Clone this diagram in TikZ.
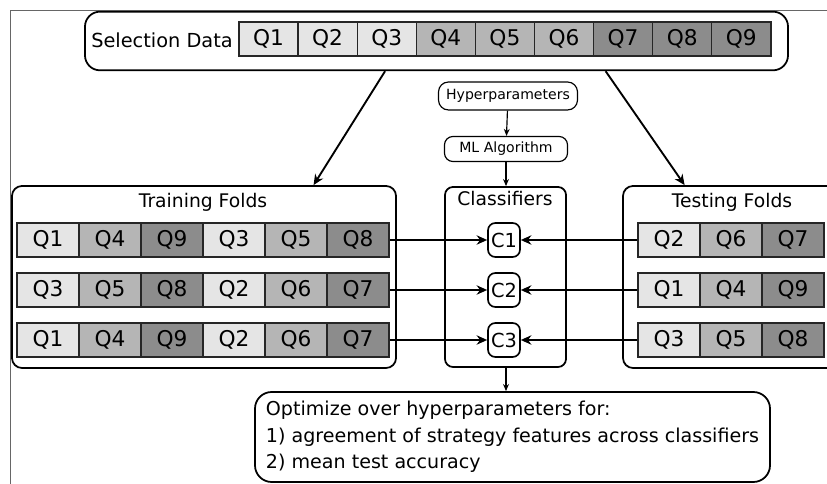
\documentclass[tikz,border=0pt]{standalone}
\usepackage{fontspec}
\setmainfont{DejaVu Sans}
\usetikzlibrary{positioning, arrows.meta, calc}
\definecolor{qlight}{gray}{0.90}
\definecolor{qmid}{gray}{0.71}
\definecolor{qdark}{gray}{0.55}
\tikzset{
  qcell/.style={draw=black!85, line width=1.1pt, minimum width=1.86cm, minimum height=1.02cm,
    inner sep=0pt, font=\fontsize{18.5}{20}\selectfont},
  roundbox/.style={draw, line width=1.5pt, rounded corners=0.3cm, inner sep=0pt},
  title/.style={font=\fontsize{16}{18}\selectfont},
  clnode/.style={draw, line width=1.4pt, rounded corners=0.22cm, minimum width=0.96cm,
    minimum height=1.02cm, inner sep=0pt, font=\fontsize{16.5}{18}\selectfont},
  smallbox/.style={draw, line width=1pt, rounded corners=0.25cm, inner sep=0pt,
    font=\fontsize{12}{14}\selectfont},
  wire/.style={-{Stealth[length=9pt, width=8pt]}, line width=1.6pt},
  thinwire/.style={-{Stealth[length=6pt, width=5pt]}, line width=1pt}
}

\begin{document}
\begin{tikzpicture}[x=0.03cm, y=-0.03cm]
    \clip (0,0) rectangle (827,484);
    \draw[black!60, line width=0.8pt] (10,484) -- (10,10) -- (827,10);
    %% outer boxes
    \node[roundbox, rounded corners=0.45cm, minimum width=21.09cm, minimum height=1.76cm, fill=white]
      (selbox) at (436.5,41) {};
    \node[roundbox, minimum width=11.52cm, minimum height=5.46cm] (trainbox) at (204,277) {};
    \node[roundbox, rounded corners=0.24cm, minimum width=3.63cm, minimum height=5.4cm] (clsbox) at (505.5,277) {};
    \node[roundbox, minimum width=6.48cm, minimum height=5.46cm] (testbox) at (731,277) {};
    \node[title, font=\fontsize{16.5}{18}\selectfont] (seltext) at (162,40) {Selection Data};
    \node[title] (traintext) at (203,202) {Training Folds};
    \node[title] (clstext) at (505,199) {Classifiers};
    \node[title] (testtext) at (732,202) {Testing Folds};
    %% selection data
    \foreach \q/\c [count=\i from 1] in {Q1/qlight,Q2/qlight,Q3/qlight,Q4/qmid,Q5/qmid,Q6/qmid,Q7/qdark,Q8/qdark,Q9/qdark}
      \node[qcell, minimum width=1.773cm, fill=\c] (sel-\i) at (209.4+59.1*\i,39) {\q};
    %% training folds
    \foreach \q/\c [count=\i from 1] in {Q1/qlight,Q4/qmid,Q9/qdark,Q3/qlight,Q5/qmid,Q8/qdark}
      \node[qcell, fill=\c] (tr1-\i) at (-14+62*\i,240) {\q};
    \foreach \q/\c [count=\i from 1] in {Q3/qlight,Q5/qmid,Q8/qdark,Q2/qlight,Q6/qmid,Q7/qdark}
      \node[qcell, fill=\c] (tr2-\i) at (-14+62*\i,290) {\q};
    \foreach \q/\c [count=\i from 1] in {Q1/qlight,Q4/qmid,Q9/qdark,Q2/qlight,Q6/qmid,Q7/qdark}
      \node[qcell, fill=\c] (tr3-\i) at (-14+62*\i,340) {\q};
    %% testing folds
    \foreach \q/\c [count=\i from 1] in {Q2/qlight,Q6/qmid,Q7/qdark}
      \node[qcell, fill=\c] (ts1-\i) at (607+62*\i,240) {\q};
    \foreach \q/\c [count=\i from 1] in {Q1/qlight,Q4/qmid,Q9/qdark}
      \node[qcell, fill=\c] (ts2-\i) at (607+62*\i,290) {\q};
    \foreach \q/\c [count=\i from 1] in {Q3/qlight,Q5/qmid,Q8/qdark}
      \node[qcell, fill=\c] (ts3-\i) at (607+62*\i,340) {\q};
    %% classifiers
    \node[clnode] (c1) at (504,240) {C1};
    \node[clnode] (c2) at (504,290) {C2};
    \node[clnode] (c3) at (504,340) {C3};
    \node[smallbox, minimum width=4.17cm, minimum height=0.84cm, rounded corners=0.3cm] (hyper) at (508,96) {Hyperparameters};
    \node[smallbox, minimum width=3.69cm, minimum height=0.75cm] (mlalg) at (506,149) {ML Algorithm};
    \node[roundbox, rounded corners=0.5cm, minimum width=15.45cm, minimum height=2.7cm,
      align=left, font=\fontsize{16.3}{22.5}\selectfont] (optbox) at (512.5,437)
      {Optimize over hyperparameters for:\\
       1) agreement of strategy features across classifiers\\
       2) mean test accuracy};
    %% connectors
    \draw[wire] ($(selbox.south west)!0.427!(selbox.south east)$) -- ($(trainbox.north west)!0.784!(trainbox.north east)$);
    \draw[wire] ($(selbox.south west)!0.74!(selbox.south east)$) -- ($(testbox.north west)!0.287!(testbox.north east)$);
    \draw[thinwire] (hyper) -- (mlalg);
    \draw[thinwire] (mlalg) -- (clsbox.north -| mlalg);
    \draw[thinwire] (clsbox.south -| mlalg) -- (optbox.north -| mlalg);
    \draw[wire] (tr1-6) -- (c1);
    \draw[wire] (tr2-6) -- (c2);
    \draw[wire] (tr3-6) -- (c3);
    \draw[wire] (ts1-1) -- (c1);
    \draw[wire] (ts2-1) -- (c2);
    \draw[wire] (ts3-1) -- (c3);
  \end{tikzpicture}
\end{document}
